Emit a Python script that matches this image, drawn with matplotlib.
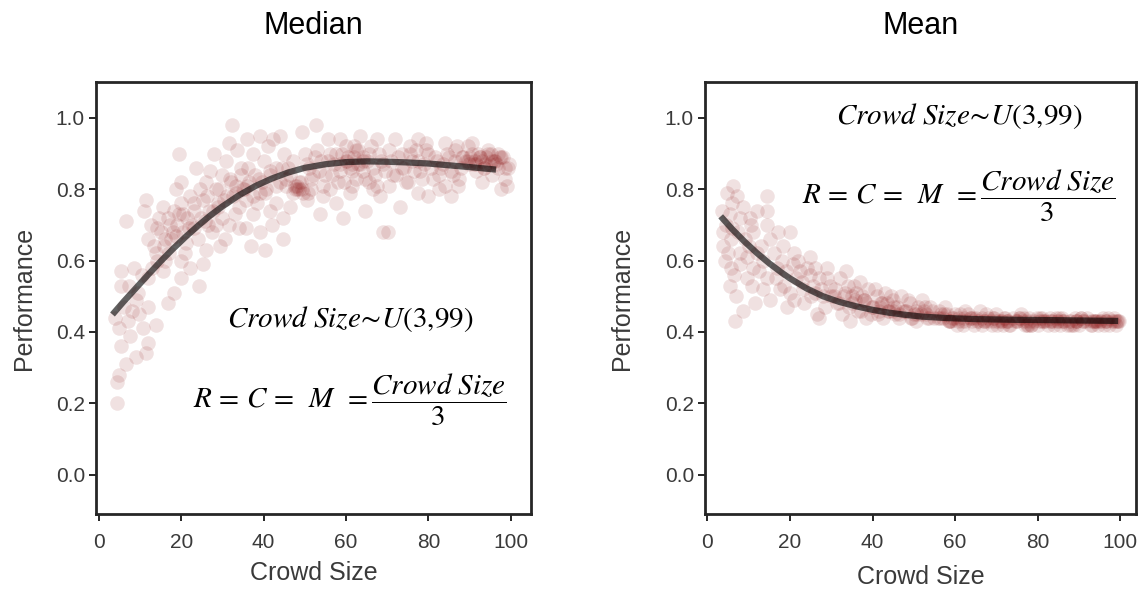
import numpy as np
import matplotlib.pyplot as plt

plt.rcParams['font.family'] = ['Liberation Sans', 'DejaVu Sans']
plt.rcParams['mathtext.fontset'] = 'stix'

# ---- Median panel: scatter (crowd size, performance)
median_x = [
    4.3, 4.5, 4.8, 6.5, 5.3, 9.0, 11.4, 11.8, 4.9, 7.0, 10.6, 13.8, 9.8, 9.0, 11.8, 16.7,
    5.3, 5.3, 7.4, 9.4, 6.0, 8.0, 7.5, 3.8, 6.6, 8.5, 10.5, 12.0,
    18.3, 19.9, 24.3, 15.5, 13.0, 11.0, 11.4, 12.6, 13.4, 13.9, 16.7, 18.3, 18.7, 19.5,
    17.5, 21.1, 19.9, 22.7, 23.5, 15.0, 14.5, 16.0, 17.0, 18.0, 19.0, 20.0, 20.5, 21.5,
    22.0, 23.0, 24.0, 24.5, 12.0, 14.0, 16.0, 21.0, 23.0, 15.5, 20.0, 22.0,
    25.2, 26.0, 25.2, 26.8, 28.4, 30.0, 30.8, 31.6, 32.4, 28.4, 30.0, 31.6, 33.3, 34.0,
    35.8, 39.1, 40.3, 44.7, 37.5, 36.2, 41.5, 39.0, 43.1, 44.7, 35.8, 37.5, 41.5, 42.3,
    39.1, 43.9, 27.0, 27.5, 29.0, 29.5, 31.0, 32.0, 33.0, 34.5, 35.0, 36.5, 38.0, 38.5,
    40.0, 40.5, 42.0, 43.0, 44.0, 45.0, 26.5, 28.0, 33.5, 36.0, 30.5, 34.0, 37.0, 41.0, 26.0,
    48.0, 47.5, 47.0, 48.5, 49.0, 52.8, 59.3, 64.6, 69.0, 49.2, 58.5, 63.3, 50.4, 53.6,
    56.1, 60.9, 62.5, 66.6, 68.2, 58.5, 46.0, 47.0, 50.0, 51.0, 52.0, 53.0, 54.0, 55.0,
    56.0, 57.0, 58.0, 59.0, 60.0, 61.0, 62.0, 63.0, 64.0, 65.0, 66.0, 67.0, 68.0, 69.0,
    46.5, 51.5, 54.5, 57.5, 61.5, 65.5, 60.0, 62.0, 64.0, 45.5, 55.5, 67.5,
    70.2, 73.0, 77.5, 87.2, 92.9, 97.7, 99.3, 99.5, 96.9, 71.8, 77.5, 84.0, 89.6, 94.5,
    89.0, 90.0, 91.0, 92.0, 93.0, 94.0, 95.0, 96.0, 97.0, 98.0, 91.5, 93.5, 71.0, 72.0,
    73.5, 74.0, 75.0, 76.0, 77.0, 78.0, 79.0, 80.0, 81.0, 82.0, 83.0, 84.0, 85.0, 86.0,
    87.0, 88.0, 80.0, 82.5, 85.5, 75.5, 79.5, 86.5, 70.5, 95.5, 98.5, 99.0, 90.5,
    # denser band on the plateau
    45.5, 46.5, 47.5, 48.5, 49.5, 50.5, 51.5, 52.5, 53.5, 54.5, 55.5, 56.5, 57.5, 58.5,
    59.5, 60.5, 61.5, 62.5, 63.5, 64.5, 65.5, 66.5, 67.5, 68.5, 69.5, 70.5, 71.5, 72.5,
    73.5, 74.5, 75.5, 76.5, 77.5, 78.5, 79.5, 80.5, 81.5, 82.5, 83.5, 84.5, 85.5, 86.5,
    87.5, 88.5, 89.5, 90.5, 91.5, 92.5, 93.5, 94.5, 95.5, 96.5, 97.5, 98.5, 88.2, 89.8,
    91.2, 92.4, 93.8, 95.2, 96.2, 97.4, 60.2, 61.4, 62.8, 64.2, 48.2, 49.4, 50.8,
    # denser band on the rise
    15.8, 17.2, 18.6, 20.4, 21.8, 23.2, 24.8, 26.2, 27.6, 29.2, 30.4, 31.8, 33.2, 34.6,
    36.0, 37.4, 38.8, 40.2, 41.6, 43.0, 44.4, 14.2, 19.4, 25.8, 32.6, 39.6, 28.8, 35.2,
]
median_y = [
    0.20, 0.26, 0.28, 0.31, 0.36, 0.33, 0.34, 0.37, 0.41, 0.43, 0.41, 0.42, 0.45, 0.49, 0.47, 0.48,
    0.53, 0.57, 0.53, 0.51, 0.47, 0.46, 0.39, 0.44, 0.71, 0.58, 0.56, 0.55,
    0.51, 0.55, 0.53, 0.57, 0.58, 0.74, 0.77, 0.70, 0.64, 0.62, 0.72, 0.74, 0.80, 0.90,
    0.66, 0.65, 0.60, 0.70, 0.86, 0.68, 0.72, 0.66, 0.62, 0.68, 0.70, 0.76, 0.68, 0.72,
    0.78, 0.74, 0.66, 0.80, 0.66, 0.60, 0.60, 0.62, 0.69, 0.75, 0.82, 0.58,
    0.77, 0.63, 0.59, 0.74, 0.80, 0.84, 0.88, 0.93, 0.98, 0.70, 0.72, 0.70, 0.81, 0.75,
    0.69, 0.68, 0.63, 0.66, 0.90, 0.86, 0.84, 0.79, 0.76, 0.72, 0.77, 0.73, 0.74, 0.94,
    0.95, 0.95, 0.85, 0.68, 0.76, 0.64, 0.78, 0.82, 0.73, 0.86, 0.80, 0.82, 0.84, 0.76,
    0.88, 0.80, 0.70, 0.86, 0.82, 0.90, 0.70, 0.90, 0.91, 0.94, 0.66, 0.69, 0.64, 0.92, 0.82,
    0.80, 0.81, 0.79, 0.80, 0.82, 0.98, 0.72, 0.74, 0.68, 0.96, 0.94, 0.95, 0.77, 0.73,
    0.80, 0.79, 0.83, 0.80, 0.78, 0.85, 0.86, 0.88, 0.90, 0.86, 0.84, 0.91, 0.88, 0.84,
    0.90, 0.87, 0.82, 0.90, 0.92, 0.86, 0.89, 0.91, 0.85, 0.88, 0.92, 0.84, 0.90, 0.87,
    0.75, 0.80, 0.78, 0.76, 0.81, 0.82, 0.88, 0.92, 0.88, 0.83, 0.94, 0.94,
    0.68, 0.75, 0.79, 0.81, 0.82, 0.80, 0.86, 0.87, 0.90, 0.94, 0.94, 0.93, 0.92, 0.91,
    0.88, 0.89, 0.87, 0.90, 0.88, 0.89, 0.87, 0.88, 0.86, 0.89, 0.85, 0.86, 0.88, 0.84,
    0.90, 0.86, 0.82, 0.88, 0.91, 0.85, 0.87, 0.90, 0.83, 0.88, 0.86, 0.81, 0.89, 0.84,
    0.92, 0.86, 0.78, 0.80, 0.78, 0.92, 0.93, 0.91, 0.81, 0.84, 0.83, 0.81, 0.93,
    0.81, 0.84, 0.80, 0.82, 0.79, 0.87, 0.83, 0.89, 0.85, 0.81, 0.88, 0.84, 0.90, 0.87,
    0.82, 0.89, 0.85, 0.91, 0.87, 0.83, 0.90, 0.86, 0.81, 0.88, 0.85, 0.91, 0.84, 0.89,
    0.86, 0.82, 0.90, 0.85, 0.88, 0.83, 0.91, 0.86, 0.89, 0.84, 0.87, 0.90, 0.85, 0.88,
    0.83, 0.89, 0.88, 0.90, 0.87, 0.89, 0.86, 0.90, 0.88, 0.87, 0.89, 0.86, 0.89, 0.87,
    0.88, 0.89, 0.87, 0.90, 0.88, 0.89, 0.88, 0.87, 0.87, 0.89, 0.81, 0.80, 0.79,
    0.64, 0.70, 0.67, 0.73, 0.69, 0.76, 0.72, 0.78, 0.74, 0.80, 0.77, 0.83, 0.79, 0.84,
    0.81, 0.78, 0.83, 0.79, 0.85, 0.81, 0.86, 0.69, 0.73, 0.71, 0.78, 0.82, 0.75, 0.80,
]

# fitted curve, median panel
median_fit_x = [3.3, 6, 9, 12, 15, 18, 21, 24, 27, 30, 34, 38, 42, 46, 50, 55, 60, 65,
                70, 75, 80, 85, 90, 96.4]
median_fit_y = [0.449, 0.485, 0.523, 0.561, 0.598, 0.633, 0.666, 0.697, 0.726, 0.752,
                0.783, 0.809, 0.830, 0.847, 0.860, 0.870, 0.876, 0.878, 0.877, 0.875,
                0.872, 0.867, 0.862, 0.855]

# ---- Mean panel
mean_x = [
    6.3, 4.7, 7.1, 8.7, 11.9, 5.5, 10.3, 3.8, 5.8, 3.8, 7.9, 11.1, 5.8, 5.5, 10.7, 8.7,
    6.7, 4.5, 6.0, 7.5, 9.0, 10.0, 11.0, 4.2, 6.5, 8.0, 9.5, 7.0, 9.5, 12.0, 3.5, 8.0,
    5.0, 10.5, 6.0, 11.5,
    14.4, 14.4, 14.4, 20.0, 15.2, 18.4, 24.8, 16.8, 20.8, 14.4, 17.6, 15.2, 20.0, 19.2,
    24.0, 26.5, 27.0, 23.2, 29.7, 24.8, 28.9, 13.0, 13.5, 16.0, 17.0, 18.0, 19.0, 21.0,
    21.5, 22.0, 22.5, 23.0, 25.5, 26.0, 27.0, 27.5, 28.0, 29.0, 30.0, 25.0, 16.5, 12.5,
    18.5, 21.0, 23.5, 26.0, 28.5, 13.5,
    31, 32, 33, 34, 35, 36, 37, 38, 39, 40, 41, 42, 43, 44, 45, 46, 47, 48, 49, 50, 51,
    52, 53, 54, 55, 32.5, 34.5, 36.5, 38.5, 40.5, 42.5, 44.5, 46.5, 48.5, 50.5, 33.5,
    31.5, 37.5, 41.5, 45.5, 49.5, 52.5, 35.5, 39.5, 43.5,
    56, 57, 58, 59, 60, 61, 62, 63, 64, 65, 66, 67, 68, 69, 70, 71, 72, 73, 74, 75, 76,
    77, 78, 79, 80, 81, 82, 83, 84, 85, 86, 87, 88, 89, 90, 91, 92, 93, 94, 95, 96, 97,
    98, 99, 57.5, 60.5, 63.5, 66.5, 69.5, 72.5, 75.5, 78.5, 81.5, 84.5, 87.5, 90.5,
    93.5, 96.5, 99.5, 58.5, 62.5, 67.5, 71.5, 76.5, 80.5, 85.5, 89.5, 94.5, 98.5,
    # denser band
    30.6, 31.8, 33.2, 34.4, 35.8, 37.2, 38.4, 39.8, 41.2, 42.4, 43.8, 45.2, 46.4, 47.8,
    49.2, 50.4, 51.8, 53.2, 54.4, 55.8, 57.2, 58.4, 59.8, 61.2, 62.4, 63.8, 65.2, 66.4,
    67.8, 69.2, 70.4, 71.8, 73.2, 74.4, 75.8, 77.2, 78.4, 79.8, 81.2, 82.4, 83.8, 85.2,
    86.4, 87.8, 89.2, 90.4, 91.8, 93.2, 94.4, 95.8, 97.2, 98.4, 99.2, 60.8, 64.6, 68.6,
    72.8, 76.8, 80.8, 84.8, 88.8, 92.8, 96.8, 62.2, 70.2, 78.2, 86.2, 94.2, 52.6, 56.6,
    # dark tail
    56.3, 58.7, 61.7, 64.3, 66.9, 69.7, 72.3, 74.9, 77.7, 80.3, 82.9, 85.7, 88.3, 90.9,
    93.7, 96.3, 98.9, 59.3, 65.7, 71.3, 77.3, 83.3, 89.3, 95.3, 99.7, 41.7, 44.9, 47.3,
    50.7, 53.7, 37.9, 34.9,
]
mean_y = [
    0.81, 0.79, 0.78, 0.75, 0.74, 0.73, 0.72, 0.68, 0.66, 0.64, 0.62, 0.58, 0.58, 0.53, 0.53, 0.46,
    0.43, 0.70, 0.76, 0.68, 0.66, 0.64, 0.68, 0.60, 0.56, 0.59, 0.61, 0.50, 0.55, 0.62, 0.74, 0.72,
    0.62, 0.70, 0.69, 0.48,
    0.78, 0.74, 0.70, 0.68, 0.66, 0.64, 0.61, 0.58, 0.59, 0.55, 0.52, 0.49, 0.51, 0.47,
    0.58, 0.45, 0.44, 0.52, 0.53, 0.56, 0.58, 0.64, 0.60, 0.62, 0.68, 0.60, 0.57, 0.62,
    0.55, 0.60, 0.57, 0.54, 0.53, 0.58, 0.55, 0.52, 0.50, 0.55, 0.50, 0.50, 0.55, 0.57,
    0.53, 0.49, 0.48, 0.51, 0.47, 0.52,
    0.52, 0.55, 0.50, 0.53, 0.48, 0.51, 0.54, 0.49, 0.52, 0.47, 0.50, 0.48, 0.51, 0.46, 0.49,
    0.47, 0.50, 0.46, 0.48, 0.45, 0.47, 0.49, 0.45, 0.47, 0.44, 0.45, 0.43, 0.46, 0.44, 0.52,
    0.44, 0.50, 0.44, 0.49, 0.43, 0.57, 0.48, 0.50, 0.46, 0.45, 0.44, 0.46, 0.53, 0.45, 0.48,
    0.46, 0.44, 0.45, 0.43, 0.45, 0.44, 0.42, 0.45, 0.43, 0.44, 0.46, 0.43, 0.44, 0.42, 0.45,
    0.43, 0.44, 0.42, 0.44, 0.43, 0.45, 0.42, 0.44, 0.43, 0.42, 0.44, 0.43, 0.44, 0.42, 0.43,
    0.44, 0.42, 0.43, 0.44, 0.42, 0.43, 0.44, 0.42, 0.43, 0.43, 0.42, 0.44, 0.43, 0.42, 0.47,
    0.42, 0.44, 0.42, 0.44, 0.43, 0.44, 0.42, 0.43, 0.44, 0.43, 0.44, 0.43, 0.43, 0.43, 0.43,
    0.46, 0.45, 0.42, 0.43, 0.44, 0.42, 0.43, 0.42, 0.44,
    0.50, 0.48, 0.51, 0.47, 0.49, 0.46, 0.48, 0.47, 0.45, 0.48, 0.46, 0.47, 0.45, 0.46,
    0.44, 0.46, 0.45, 0.44, 0.46, 0.44, 0.45, 0.43, 0.44, 0.45, 0.43, 0.44, 0.43, 0.44,
    0.43, 0.44, 0.43, 0.44, 0.42, 0.43, 0.44, 0.43, 0.42, 0.44, 0.43, 0.42, 0.43, 0.44,
    0.43, 0.42, 0.43, 0.44, 0.43, 0.42, 0.43, 0.44, 0.42, 0.43, 0.43, 0.43, 0.42, 0.43,
    0.43, 0.44, 0.43, 0.43, 0.42, 0.43, 0.43, 0.44, 0.42, 0.43, 0.43, 0.43, 0.47, 0.45,
    0.44, 0.43, 0.43, 0.44, 0.43, 0.43, 0.43, 0.43, 0.42, 0.43, 0.43, 0.43, 0.42, 0.43,
    0.43, 0.43, 0.43, 0.44, 0.43, 0.43, 0.42, 0.43, 0.43, 0.43, 0.43, 0.47, 0.46, 0.46,
    0.45, 0.44, 0.49, 0.50,
]

mean_fit_x = [3.2, 6, 9, 12, 15, 18, 20, 24, 28, 32, 36, 40, 44, 48, 52, 58, 65, 75,
              85, 92, 99.5]
mean_fit_y = [0.724, 0.688, 0.653, 0.621, 0.592, 0.566, 0.550, 0.522, 0.500, 0.484,
              0.472, 0.462, 0.454, 0.448, 0.443, 0.439, 0.436, 0.434, 0.433, 0.432, 0.431]

titles = ['Median', 'Mean']
dist_text = r'$Crowd\ Size\!\sim\! U(3{,}99)$'
param_text = r'$R\,=\,C\,=\ \,M\ \,=\dfrac{Crowd\ Size}{3}$'

text_color = '#3a3a3a'
dot_color = '#8b1010'

fig = plt.figure(figsize=(11.43, 5.94), dpi=100)
ax1 = fig.add_axes([0.084, 0.1347, 0.3806, 0.727])
ax2 = fig.add_axes([0.6168, 0.1347, 0.3770, 0.727])

panels = [
    (ax1, median_x, median_y, median_fit_x, median_fit_y, (-0.7, 104.9), (61, 0.435), (61, 0.21), 14, 6),
    (ax2, mean_x, mean_y, mean_fit_x, mean_fit_y, (-0.6, 103.8), (61, 1.005), (61, 0.78), 22, 9),
]

for i, (ax, xs, ys, fx, fy, xlim, p_dist, p_param, ylpad, xlpad) in enumerate(panels):
    ax.scatter(xs, ys, s=110, color=dot_color, alpha=0.12, linewidths=0)
    ax.plot(fx, fy, color='black', alpha=0.62, lw=4.5, solid_capstyle='butt')
    ax.set_xlim(*xlim)
    ax.set_ylim(-0.11, 1.10)
    ax.set_xticks([0, 20, 40, 60, 80, 100])
    ax.set_yticks([0.0, 0.2, 0.4, 0.6, 0.8, 1.0])
    ax.set_yticklabels(['0.0', '0.2', '0.4', '0.6', '0.8', '1.0'])
    ax.tick_params(axis='both', direction='out', length=5, width=1.4,
                   colors='#262626', labelsize=15, labelcolor=text_color)
    ax.tick_params(axis='x', pad=9)
    ax.tick_params(axis='y', pad=3)
    for sp in ax.spines.values():
        sp.set_color('#262626')
        sp.set_linewidth(2.0)
    ax.set_xlabel('Crowd Size', fontsize=18, color=text_color, labelpad=xlpad)
    ax.set_ylabel('Performance', fontsize=18, color=text_color, labelpad=ylpad)
    ax.set_title(titles[i], fontsize=22, color='black', pad=35)
    ax.text(p_dist[0], p_dist[1], dist_text, fontsize=21, ha='center', va='center')
    ax.text(p_param[0], p_param[1], param_text, fontsize=21, ha='center', va='center')

fig.savefig('out.png', dpi=100)
